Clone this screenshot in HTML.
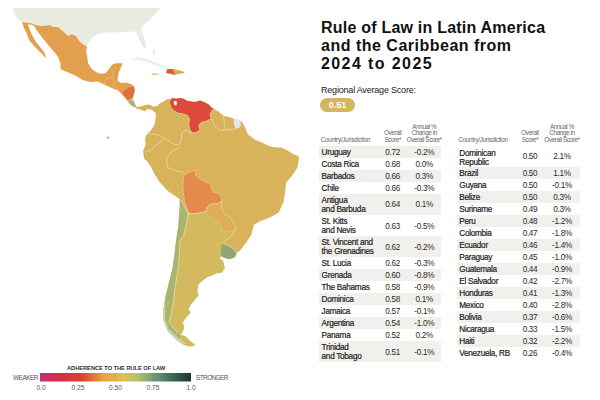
<!DOCTYPE html>
<html><head><meta charset="utf-8">
<style>
*{margin:0;padding:0;box-sizing:border-box}
html,body{width:600px;height:400px;background:#fff;overflow:hidden;font-family:"Liberation Sans",sans-serif;color:#222}
#map{position:absolute;left:0;top:0}
.t{position:absolute;white-space:nowrap}
.ttl{left:321px;font:bold 16px/17.75px "Liberation Sans",sans-serif;color:#111}
.ras{position:absolute;left:321px;top:85px;font-size:9px;letter-spacing:-0.2px;color:#222}
.pill{position:absolute;left:320px;top:97.5px;width:35px;height:14px;border-radius:7px;background:#d5b55e;color:#fff;font:bold 9px/14px "Liberation Sans",sans-serif;text-align:center}
.sh{position:absolute;background:#f2f0ec}
.nm{position:absolute;white-space:nowrap;font-size:8.2px;letter-spacing:-0.28px;line-height:9px;color:#1c1c1c;-webkit-text-stroke:0.2px #1c1c1c}
.vl{position:absolute;width:30px;text-align:center;white-space:nowrap;font-size:8.2px;letter-spacing:-0.3px;line-height:9px;color:#2a2a2a}
.hd{position:absolute;font-size:6.3px;line-height:6.5px;letter-spacing:-0.38px;color:#666;white-space:nowrap}
.hc{width:40px;text-align:center}
</style></head><body>
<svg id="map" width="600" height="400" viewBox="0 0 600 400">
<!-- US -->
<path fill="#ebece1" d="M12.5,8 L160,8 L159.7,9 L154.5,15 L148.5,21 L144,24 L141.7,27 L141.5,30 L143.5,36 L145.5,42 L146.2,46.5 L144.8,49.2 L142,45 L139,39 L137,34 L134,31.5 L120,32.2 L100,33 L92.5,37.5 L87.5,44 L87,47 L80,42 L76,36 L72,34 L68,36 L64,32 L58,27 L53,27 L50,25 L42,26 L36,25 L30,23 L22,22 L18,19 L15,15 Z"/>
<!-- Cuba -->
<path fill="#eeefec" d="M131.5,59.5 L137.5,57.3 L146,58.8 L154.5,62 L162.5,65.3 L169,67 L168,68.3 L162,67.5 L154,65 L146,61.5 L137.5,60 L132,61 Z"/>
<!-- Mexico + CA -->
<path fill="#e2a04f" d="M22,22 L30,23 L36,25 L42,26 L50,25 L53,27 L58,27 L64,32 L68,36 L72,34 L76,36 L80,42 L87,47 L86.2,51 L86.75,54 L88.1,63.4 L92.25,69.6 L97.75,73 L101.9,73.7 L105.5,73 L110,67.7 L112,64.7 L116,63.2 L122.7,63.2 L121.2,67 L119,71.5 L118,76 L117.5,81 L121,82.7 L126.5,82.7 L131,84 L134,86.5 L134.7,91 L132.5,98.5 L127.2,100.7 L122.7,94.7 L117.5,90.2 L110,87.2 L103.25,84 L97.75,81.5 L90.9,82 L82.6,79.9 L75.75,75.75 L67.5,72.3 L60.6,68.9 L60.6,64 L57.9,56.5 L51,48.25 L44.1,40 L38,32 L34,26 L32,25 L28,24 L29,28 L32,35 L36,42 L40,47 L44,52 L46,57 L45,57 L41,53 L38,50 L34,46 L29,40 L27,34 L24,28 Z"/>
<!-- Nicaragua -->
<path fill="#e0703c" d="M122.7,91.7 L129.5,87.2 L134,86.5 L134.7,91 L132.5,98.5 L128,100 L122.7,94.7 Z"/>
<!-- Costa Rica -->
<path fill="#a9b274" d="M127.2,100.7 L132.5,99.2 L134.7,103 L136.2,106.7 L134,107.5 L130.2,104.5 Z"/>
<!-- Panama -->
<path fill="#d5b253" d="M136.2,106.7 L140,106.7 L144.5,105.2 L149,104.5 L153.5,106.7 L157,106 L156.5,111 L155,112.7 L152,109.7 L147.5,109 L144.5,111.2 L141.5,109.7 L135.5,108.2 Z"/>
<!-- Jamaica -->
<path fill="#d5cc98" d="M151.8,73.3 L157,73.5 L160,74.5 L157,75.3 L152,75 Z"/>
<path fill="#cfd2b0" d="M152.5,50 L154,51 L155,54 L153.5,53 Z"/>
<path fill="#c8c890" d="M106,136.5 L109,136.5 L110,138.5 L107,139 Z"/>
<!-- Hispaniola -->
<path fill="#d9aa55" d="M173,69 L182,71 L185,73 L178,74 L175,75 Z"/>
<path fill="#dc5a3a" d="M167,69 L173,69 L175,75 L171,74 L166,73 Z"/>
<!-- South America -->
<path fill="#d8b35c" d="M155,110.5 L157,106 L160,103.5 L165,100.5 L168,99 L170.6,99.4 L172.5,98.1 L176.25,98.75 L180,98.1 L183.75,98.75 L186.25,100.6 L190,101.25 L195,101.9 L200,100.6 L205,102.5 L208.75,104.4 L211.25,107.5 L213.75,108.75 L218.1,111.25 L223.75,116 L229.4,117.25 L234,118.75 L239.7,120.6 L242.5,122.5 L245.3,128.1 L248.1,134.7 L251,136.6 L254.7,139.4 L261.25,142.2 L266.9,145 L272.5,146.9 L281.9,147.8 L287.5,150.6 L294,154.4 L298.75,156.25 L298.75,160 L297.5,167.5 L292.5,175 L286.25,182.5 L285,192.5 L283.75,201.25 L278.75,212.5 L270,217.5 L260,221.25 L253.75,225 L251.25,235 L246.25,242.5 L240.5,250 L236.75,253 L234.5,257.5 L230,259 L225.5,258.25 L221,256 L219.5,258.25 L223.25,261.25 L224,265 L224.75,268 L221.75,272.5 L217.5,273 L206.3,277.5 L198.4,284.25 L197.25,291 L198.4,295.5 L191.6,303.4 L188.25,309 L190.5,312.4 L183.75,320.25 L183,323 L184,328 L182,333 L180,335 L185,336 L190,341 L195,345 L190,346.5 L182,344 L177,340 L168,331.5 L163.5,320.25 L163.5,309 L165.75,295.5 L169.1,282 L172.5,268.5 L174.5,255 L175.5,245 L176.75,236 L178.25,227 L179,216.5 L179.75,206 L179.75,199.25 L173.75,195 L168.5,191.5 L163.25,186.25 L158.9,181 L154.5,174 L151,167 L147.5,161.75 L144,158.25 L143.1,151.25 L145.75,144.25 L144.9,139 L146.6,134.6 L151,130.25 L154.5,125 L156,116 Z"/>
<!-- Venezuela -->
<path fill="#dc4a3c" d="M170.6,99.4 L172.5,98.1 L176.25,98.75 L180,98.1 L183.75,98.75 L186.25,100.6 L190,101.25 L195,101.9 L200,100.6 L205,102.5 L208.75,104.4 L211.25,107.5 L213.75,108.75 L211.25,111.9 L210,115 L211.25,118.75 L206.25,121.25 L201.25,122.5 L198.75,125 L200,130 L196.25,132.5 L191.9,133.1 L189.4,128.75 L188.75,123.75 L189.4,118.75 L187.5,115.6 L182.5,113.75 L177.5,113.1 L173.75,110.6 L171.25,106.25 L170,102.5 Z"/>
<path fill="#fff" d="M173.5,101.5 L176.5,101 L177,104.5 L174.5,105.5 Z"/>
<!-- French Guiana -->
<path fill="#e6e7ec" d="M233.5,118 L240,120.8 L241,124.5 L239.5,127.5 L235.5,129 L234,124 Z"/>
<!-- Bolivia -->
<path fill="#e38a4c" stroke="#f0d9a8" stroke-width="0.5" d="M184,175 L192,171 L195,170 L196,176 L200,179 L210,184 L213,192 L220,194 L221.9,201.25 L217.5,203.75 L210,204.4 L206.9,207.5 L206.25,211.25 L202.5,212.5 L195,213.75 L189.5,214.25 L187.25,209 L185,203 L183.5,194 L182.75,185 Z"/>
<!-- Paraguay -->
<path fill="#dfad58" stroke="#f0d9a8" stroke-width="0.6" d="M206.9,207.5 L210,204.4 L217.5,203.75 L221.9,201.25 L221.25,207.5 L223.75,213.75 L230,216.9 L232.5,221.25 L235,225 L235.6,228.75 L231.25,231.25 L227.5,232.5 L223.75,230.6 L220,231.25 L221.25,225 L217.5,221.25 L210,217.5 L206.9,213.75 L206.25,211.25 Z"/>
<!-- Chile -->
<path fill="#a9b56f" d="M179.75,199.25 L181.25,200 L185,207.5 L188,213.5 L186.5,224 L183.5,236 L180,240 L179.25,255 L178.1,268.5 L175.9,282 L173.6,300 L171.4,313.5 L169.1,322.5 L174.75,329.25 L178,333 L182,336 L186,338 L190,341 L195,345 L190,346.5 L182,344 L177,340 L168,331.5 L163.5,320.25 L163.5,309 L165.75,295.5 L169.1,282 L172.5,268.5 L174.5,255 L175.5,245 L176.75,236 L178.25,227 L179,216.5 L179.75,206 Z"/>
<!-- Argentina -->
<path fill="#d4ba5e" d="M188,213.5 L195,213.75 L202.5,212.5 L206.25,211.25 L206.9,213.75 L210,217.5 L217.5,221.25 L221.25,225 L220,231.25 L223.75,230.6 L227.5,232.5 L231.25,231.25 L235.6,228.75 L232.5,235 L227.5,238.75 L223.75,242.5 L222.5,243.25 L221.75,245.5 L221,250 L221,256 L219.5,258.25 L223.25,261.25 L224,265 L224.75,268 L221.75,272.5 L217.5,273 L206.3,277.5 L198.4,284.25 L197.25,291 L198.4,295.5 L191.6,303.4 L188.25,309 L190.5,312.4 L183.75,320.25 L183,323 L184,328 L182,333 L178,333 L174.75,329.25 L169.1,322.5 L171.4,313.5 L173.6,300 L175.9,282 L178.1,268.5 L179.25,255 L180,240 L183.5,236 L186.5,224 Z M180,335 L185,336 L190,341 L195,345 L190,346.5 L184,343 L181,339 Z"/>
<!-- Uruguay -->
<path fill="#8ca874" d="M222.5,243.25 L227,244.75 L233,248.5 L236.75,253 L234.5,257.5 L230,259 L225.5,258.25 L221,256 L221,250 L221.75,245.5 Z"/>
<g fill="#fff" opacity="0.4">
<path d="M163.5,312 L164.5,304 L165.5,304 L165,312 L165.3,320 L168.5,329 L176,336 L182,340.5 L186,344.2 L182,344 L177,340 L168,331.5 L163.5,320.25 Z"/>
<circle cx="166" cy="312" r="0.8"/><circle cx="167" cy="324" r="0.8"/><circle cx="171" cy="331" r="0.9"/><circle cx="176" cy="334.5" r="0.8"/><circle cx="181" cy="339" r="0.9"/><circle cx="168" cy="303" r="0.7"/><circle cx="170.5" cy="318" r="0.6"/>
</g>
<g fill="none" stroke="#f2c88e" stroke-width="0.5">
<path d="M104.5,85 L105,79.5 L109,78 L113,77.5 L113.5,70.5 L117,68.5"/>
<path d="M113,77.5 L115,82.5 L112.5,85.5 L110.5,87.5"/>
<path d="M112.5,85.5 L117,87.5 L119,90.5"/>
</g>
<!-- borders -->
<g fill="none" stroke="#f2dfa8" stroke-width="0.7" stroke-linejoin="round">
<path d="M181.25,200 L185,207.5 L188,213.5 L186.5,224 L183.5,236 L180,240 L179.25,255 L178.1,268.5 L175.9,282 L173.6,300 L171.4,313.5 L169.1,322.5 L174.75,329.25 L178,333"/>
<path d="M188,213.5 L195,213.75 L202.5,212.5 L206.25,211.25"/>
<path d="M222.5,243.25 L227,244.75 L233,248.5 L236.75,253"/>
<path d="M173.75,110.6 L177.5,113.1 L182.5,113.75 L187.5,115.6 L189.4,118.75 L188.75,123.75 L189.4,128.75 L191.9,133.1 L196.25,132.5 L200,130 L198.75,125 L201.25,122.5 L206.25,121.25 L211.25,118.75 L210,115 L211.25,111.9 L213.75,108.75"/>

<path d="M147,133.6 L157.5,134.5 L166.25,138.9 L173.25,144.1 L178.5,145 L181.1,141.5 L182,132.75 L185.5,130.1 L190.75,132.75"/>
<path d="M145.25,152 L148.75,151.1 L154,147.6 L161,141.5 L162.75,138.9"/>
<path d="M179.4,147.6 L171.5,152 L166.25,159 L168,167.8 L176.75,171.3 L183.75,172.2"/>
<path d="M211.5,119 L215,126.5 L220,130.5 L224,130 L229,129.5 L235,129"/>
<path d="M223.5,116.5 L224.5,123.5 L224,130"/>
<path d="M235.6,228.75 L232.5,235 L227.5,238.75 L223.75,242.5"/>
</g>
<!-- Legend -->
<defs><linearGradient id="g" x1="0" x2="1">
<stop offset="0" stop-color="#c52e76"/><stop offset="0.15" stop-color="#d6303f"/><stop offset="0.28" stop-color="#d8452f"/>
<stop offset="0.42" stop-color="#e9a142"/><stop offset="0.55" stop-color="#dcc252"/><stop offset="0.65" stop-color="#b5c064"/>
<stop offset="0.76" stop-color="#6a9a7a"/><stop offset="0.88" stop-color="#3b6656"/><stop offset="1" stop-color="#1d3330"/></linearGradient></defs>
<rect x="40" y="373" width="151" height="8.5" fill="url(#g)"/>
<line x1="77.8" y1="373" x2="77.8" y2="381.5" stroke="#000" stroke-opacity="0.15" stroke-width="0.6"/>
<line x1="115.5" y1="373" x2="115.5" y2="381.5" stroke="#000" stroke-opacity="0.15" stroke-width="0.6"/>
<line x1="153.2" y1="373" x2="153.2" y2="381.5" stroke="#000" stroke-opacity="0.15" stroke-width="0.6"/>
</svg>
<div class="t" style="left:67px;top:365px;font-size:5.8px;font-weight:bold;color:#333;letter-spacing:-0.1px">ADHERENCE TO THE RULE OF LAW</div>
<div class="t" style="left:13px;top:374.3px;font-size:6.4px;letter-spacing:-0.45px;color:#555">WEAKER</div>
<div class="t" style="left:196px;top:374.3px;font-size:6.4px;letter-spacing:-0.55px;color:#555">STRONGER</div>
<div class="t" style="left:33px;width:16px;text-align:center;top:383.5px;font-size:6.6px;color:#555">0.0</div>
<div class="t" style="left:68px;width:20px;text-align:center;top:383.5px;font-size:6.6px;color:#555">0.25</div>
<div class="t" style="left:105.5px;width:20px;text-align:center;top:383.5px;font-size:6.6px;color:#555">0.50</div>
<div class="t" style="left:143px;width:20px;text-align:center;top:383.5px;font-size:6.6px;color:#555">0.75</div>
<div class="t" style="left:183px;width:16px;text-align:center;top:383.5px;font-size:6.6px;color:#555">1.0</div>

<div class="t ttl" style="top:19px;letter-spacing:0.22px">Rule of Law in Latin America</div>
<div class="t ttl" style="top:36.7px;letter-spacing:0.5px">and the Caribbean from</div>
<div class="t ttl" style="top:54.5px;letter-spacing:1.4px">2024 to 2025</div>
<div class="ras">Regional Average Score:</div>
<div class="pill">0.51</div>
<div id="tables">
<div class="hd" style="left:320.8px;top:136.80px;letter-spacing:-0.3px">Country/Jurisdiction</div>
<div class="hd hc" style="left:372.7px;top:130.30px">Overall<br>Score*</div>
<div class="hd hc" style="left:404.3px;top:123.80px">Annual %<br>Change in<br>Overall Score*</div>
<div class="sh" style="left:319.3px;top:145.60px;width:121.7px;height:12.00px"></div>
<div class="nm" style="left:321.6px;top:147.90px">Uruguay</div>
<div class="vl" style="left:377.7px;top:147.90px">0.72</div>
<div class="vl" style="left:409.3px;top:147.90px">-0.2%</div>
<div class="nm" style="left:321.6px;top:159.90px">Costa Rica</div>
<div class="vl" style="left:377.7px;top:159.90px">0.68</div>
<div class="vl" style="left:409.3px;top:159.90px">0.0%</div>
<div class="sh" style="left:319.3px;top:169.60px;width:121.7px;height:12.00px"></div>
<div class="nm" style="left:321.6px;top:171.90px">Barbados</div>
<div class="vl" style="left:377.7px;top:171.90px">0.66</div>
<div class="vl" style="left:409.3px;top:171.90px">0.3%</div>
<div class="nm" style="left:321.6px;top:183.90px">Chile</div>
<div class="vl" style="left:377.7px;top:183.90px">0.66</div>
<div class="vl" style="left:409.3px;top:183.90px">-0.3%</div>
<div class="sh" style="left:319.3px;top:193.60px;width:121.7px;height:21.10px"></div>
<div class="nm" style="left:321.6px;top:196.05px">Antigua<br>and Barbuda</div>
<div class="vl" style="left:377.7px;top:200.45px">0.64</div>
<div class="vl" style="left:409.3px;top:200.45px">0.1%</div>
<div class="nm" style="left:321.6px;top:217.15px">St. Kitts<br>and Nevis</div>
<div class="vl" style="left:377.7px;top:221.55px">0.63</div>
<div class="vl" style="left:409.3px;top:221.55px">-0.5%</div>
<div class="sh" style="left:319.3px;top:235.80px;width:121.7px;height:21.10px"></div>
<div class="nm" style="left:321.6px;top:238.25px">St. Vincent and<br>the Grenadines</div>
<div class="vl" style="left:377.7px;top:242.65px">0.62</div>
<div class="vl" style="left:409.3px;top:242.65px">-0.2%</div>
<div class="nm" style="left:321.6px;top:259.20px">St. Lucia</div>
<div class="vl" style="left:377.7px;top:259.20px">0.62</div>
<div class="vl" style="left:409.3px;top:259.20px">-0.3%</div>
<div class="sh" style="left:319.3px;top:268.90px;width:121.7px;height:12.00px"></div>
<div class="nm" style="left:321.6px;top:271.20px">Grenada</div>
<div class="vl" style="left:377.7px;top:271.20px">0.60</div>
<div class="vl" style="left:409.3px;top:271.20px">-0.8%</div>
<div class="nm" style="left:321.6px;top:283.20px">The Bahamas</div>
<div class="vl" style="left:377.7px;top:283.20px">0.58</div>
<div class="vl" style="left:409.3px;top:283.20px">-0.9%</div>
<div class="sh" style="left:319.3px;top:292.90px;width:121.7px;height:12.00px"></div>
<div class="nm" style="left:321.6px;top:295.20px">Dominica</div>
<div class="vl" style="left:377.7px;top:295.20px">0.58</div>
<div class="vl" style="left:409.3px;top:295.20px">0.1%</div>
<div class="nm" style="left:321.6px;top:307.20px">Jamaica</div>
<div class="vl" style="left:377.7px;top:307.20px">0.57</div>
<div class="vl" style="left:409.3px;top:307.20px">-0.1%</div>
<div class="sh" style="left:319.3px;top:316.90px;width:121.7px;height:12.00px"></div>
<div class="nm" style="left:321.6px;top:319.20px">Argentina</div>
<div class="vl" style="left:377.7px;top:319.20px">0.54</div>
<div class="vl" style="left:409.3px;top:319.20px">-1.0%</div>
<div class="nm" style="left:321.6px;top:331.20px">Panama</div>
<div class="vl" style="left:377.7px;top:331.20px">0.52</div>
<div class="vl" style="left:409.3px;top:331.20px">0.2%</div>
<div class="sh" style="left:319.3px;top:340.90px;width:121.7px;height:21.10px"></div>
<div class="nm" style="left:321.6px;top:343.35px">Trinidad<br>and Tobago</div>
<div class="vl" style="left:377.7px;top:347.75px">0.51</div>
<div class="vl" style="left:409.3px;top:347.75px">-0.1%</div>
<div class="hd" style="left:458.3px;top:136.80px;letter-spacing:-0.3px">Country/Jurisdiction</div>
<div class="hd hc" style="left:510px;top:130.30px">Overall<br>Score*</div>
<div class="hd hc" style="left:542px;top:123.80px">Annual %<br>Change in<br>Overall Score*</div>
<div class="nm" style="left:459.3px;top:148.50px">Dominican<br>Republic</div>
<div class="vl" style="left:515px;top:152.20px">0.50</div>
<div class="vl" style="left:547px;top:152.20px">2.1%</div>
<div class="sh" style="left:457px;top:167.40px;width:122.7px;height:12.00px"></div>
<div class="nm" style="left:459.3px;top:169.10px">Brazil</div>
<div class="vl" style="left:515px;top:169.10px">0.50</div>
<div class="vl" style="left:547px;top:169.10px">1.1%</div>
<div class="nm" style="left:459.3px;top:181.10px">Guyana</div>
<div class="vl" style="left:515px;top:181.10px">0.50</div>
<div class="vl" style="left:547px;top:181.10px">-0.1%</div>
<div class="sh" style="left:457px;top:191.40px;width:122.7px;height:12.00px"></div>
<div class="nm" style="left:459.3px;top:193.10px">Belize</div>
<div class="vl" style="left:515px;top:193.10px">0.50</div>
<div class="vl" style="left:547px;top:193.10px">0.3%</div>
<div class="nm" style="left:459.3px;top:205.10px">Suriname</div>
<div class="vl" style="left:515px;top:205.10px">0.49</div>
<div class="vl" style="left:547px;top:205.10px">0.3%</div>
<div class="sh" style="left:457px;top:215.40px;width:122.7px;height:12.00px"></div>
<div class="nm" style="left:459.3px;top:217.10px">Peru</div>
<div class="vl" style="left:515px;top:217.10px">0.48</div>
<div class="vl" style="left:547px;top:217.10px">-1.2%</div>
<div class="nm" style="left:459.3px;top:229.10px">Colombia</div>
<div class="vl" style="left:515px;top:229.10px">0.47</div>
<div class="vl" style="left:547px;top:229.10px">-1.8%</div>
<div class="sh" style="left:457px;top:239.40px;width:122.7px;height:12.00px"></div>
<div class="nm" style="left:459.3px;top:241.10px">Ecuador</div>
<div class="vl" style="left:515px;top:241.10px">0.46</div>
<div class="vl" style="left:547px;top:241.10px">-1.4%</div>
<div class="nm" style="left:459.3px;top:253.10px">Paraguay</div>
<div class="vl" style="left:515px;top:253.10px">0.45</div>
<div class="vl" style="left:547px;top:253.10px">-1.0%</div>
<div class="sh" style="left:457px;top:263.40px;width:122.7px;height:12.00px"></div>
<div class="nm" style="left:459.3px;top:265.10px">Guatemala</div>
<div class="vl" style="left:515px;top:265.10px">0.44</div>
<div class="vl" style="left:547px;top:265.10px">-0.9%</div>
<div class="nm" style="left:459.3px;top:277.10px">El Salvador</div>
<div class="vl" style="left:515px;top:277.10px">0.42</div>
<div class="vl" style="left:547px;top:277.10px">-2.7%</div>
<div class="sh" style="left:457px;top:287.40px;width:122.7px;height:12.00px"></div>
<div class="nm" style="left:459.3px;top:289.10px">Honduras</div>
<div class="vl" style="left:515px;top:289.10px">0.41</div>
<div class="vl" style="left:547px;top:289.10px">-1.3%</div>
<div class="nm" style="left:459.3px;top:301.10px">Mexico</div>
<div class="vl" style="left:515px;top:301.10px">0.40</div>
<div class="vl" style="left:547px;top:301.10px">-2.8%</div>
<div class="sh" style="left:457px;top:311.40px;width:122.7px;height:12.00px"></div>
<div class="nm" style="left:459.3px;top:313.10px">Bolivia</div>
<div class="vl" style="left:515px;top:313.10px">0.37</div>
<div class="vl" style="left:547px;top:313.10px">-0.6%</div>
<div class="nm" style="left:459.3px;top:325.10px">Nicaragua</div>
<div class="vl" style="left:515px;top:325.10px">0.33</div>
<div class="vl" style="left:547px;top:325.10px">-1.5%</div>
<div class="sh" style="left:457px;top:335.40px;width:122.7px;height:12.00px"></div>
<div class="nm" style="left:459.3px;top:337.10px">Haiti</div>
<div class="vl" style="left:515px;top:337.10px">0.32</div>
<div class="vl" style="left:547px;top:337.10px">-2.2%</div>
<div class="nm" style="left:459.3px;top:349.10px">Venezuela, RB</div>
<div class="vl" style="left:515px;top:349.10px">0.26</div>
<div class="vl" style="left:547px;top:349.10px">-0.4%</div>
</div><!--/tables-->

</body></html>
